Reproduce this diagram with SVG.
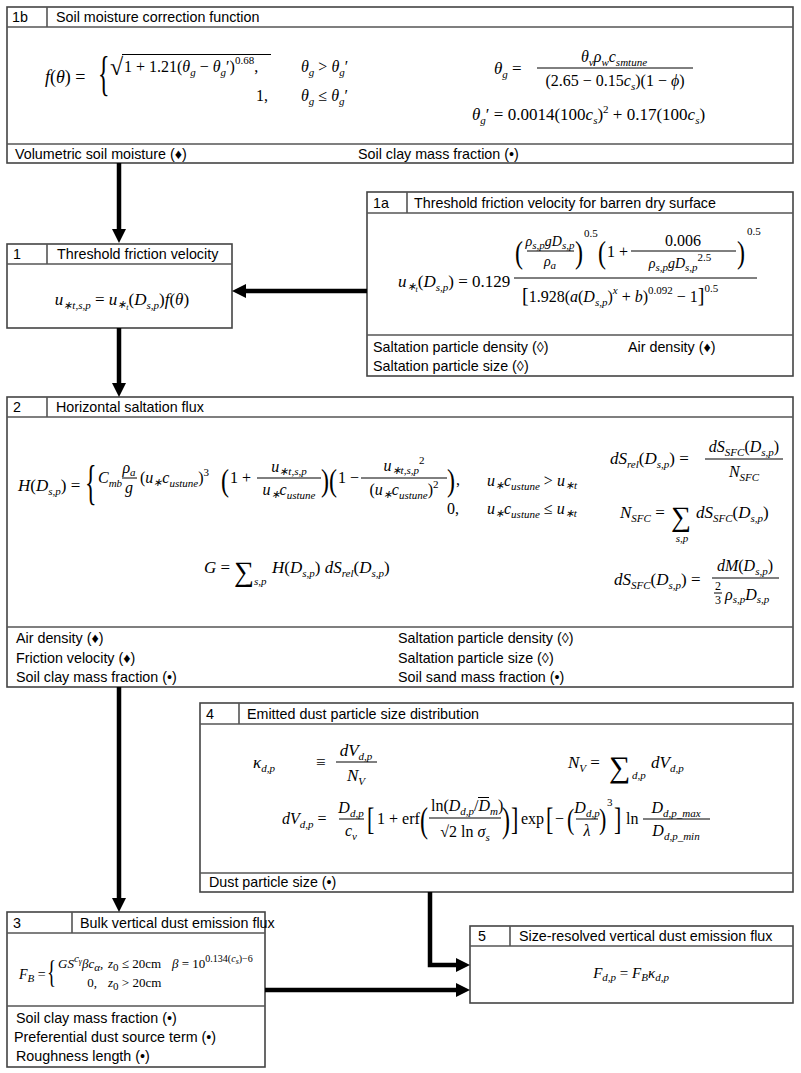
<svg xmlns="http://www.w3.org/2000/svg" width="801" height="1073" viewBox="0 0 801 1073">
<defs>
<style>
.t{font-family:"Liberation Sans",Arial,sans-serif;font-size:14.3px;fill:#000}
.m{font-family:"Liberation Serif","Times New Roman",serif;font-style:italic;font-size:16px;fill:#000}
.r{font-style:normal}
.s{font-size:11px}
.ss{font-size:8px}
.k{font-size:14px}
.box{fill:#fff;stroke:#444;stroke-width:1.6}
.ln{stroke:#555;stroke-width:1.6;fill:none}
.fb{stroke:#000;stroke-width:1}
.c{fill:none;stroke:#000;stroke-width:4.5}
</style>
<marker id="ah" markerUnits="userSpaceOnUse" markerWidth="16" markerHeight="16" refX="2" refY="8" orient="auto"><path d="M0,1 L14,8 L0,15 z" fill="#000"/></marker>
</defs>
<rect width="801" height="1073" fill="#fff"/>

<g id="node-1b">
<rect class="box" x="7" y="7" width="786" height="156"/>
<path class="ln" d="M7,27 H793 M47,7 V27 M7,144 H793"/>
<text class="t" x="12" y="22">1b</text>
<text class="t" x="56" y="22">Soil moisture correction function</text>
<text class="m" style="font-size:18px" x="45" y="83">f<tspan class="r">(</tspan>θ<tspan class="r">) =</tspan></text>
<text class="m r" style="font-size:24px" transform="translate(98,90) scale(1,2.05)">{</text>
<text class="m r" style="font-size:24px" x="110" y="75">√</text>
<line class="fb" x1="122" y1="54.5" x2="271" y2="54.5"/>
<text class="m" x="124" y="72"><tspan class="r">1 + 1.21(</tspan>θ<tspan class="s" dy="4">g</tspan><tspan class="r" dy="-4"> − </tspan>θ<tspan class="s" dy="4">g</tspan><tspan class="r" dy="-4">′)</tspan><tspan class="s r" dy="-8">0.68</tspan><tspan class="r" dy="8">,</tspan></text>
<text class="m" x="301" y="72">θ<tspan class="s" dy="4">g</tspan><tspan class="r" dy="-4"> &gt; </tspan>θ<tspan class="s" dy="4">g</tspan><tspan class="r" dy="-4">′</tspan></text>
<text class="m r" x="256" y="101">1,</text>
<text class="m" x="301" y="101">θ<tspan class="s" dy="4">g</tspan><tspan class="r" dy="-4"> ≤ </tspan>θ<tspan class="s" dy="4">g</tspan><tspan class="r" dy="-4">′</tspan></text>
<text class="m" style="font-size:17px" x="494" y="74">θ<tspan class="s" dy="4">g</tspan><tspan class="r" dy="-4"> =</tspan></text>
<text class="m" x="614" y="62" text-anchor="middle">θ<tspan class="s" dy="4">v</tspan><tspan dy="-4">ρ</tspan><tspan class="s" dy="4">w</tspan><tspan dy="-4">c</tspan><tspan class="s" dy="4">smtune</tspan></text>
<line class="fb" x1="537" y1="68" x2="693" y2="68"/>
<text class="m r" x="615" y="86" text-anchor="middle">(2.65 − 0.15<tspan font-style="italic">c</tspan><tspan class="s" font-style="italic" dy="4">s</tspan><tspan dy="-4">)(1 − </tspan><tspan font-style="italic">ϕ</tspan>)</text>
<text class="m" style="font-size:17px" x="472" y="120">θ<tspan class="s" dy="4">g</tspan><tspan class="r" dy="-4">′ = 0.0014(100</tspan>c<tspan class="s" dy="4">s</tspan><tspan class="r" dy="-4">)</tspan><tspan class="s r" dy="-7">2</tspan><tspan class="r" dy="7"> + 0.17(100</tspan>c<tspan class="s" dy="4">s</tspan><tspan class="r" dy="-4">)</tspan></text>
<text class="t" x="15" y="159">Volumetric soil moisture (♦)</text>
<text class="t" x="358" y="159">Soil clay mass fraction (•)</text>
</g>

<g id="node-1">
<rect class="box" x="7" y="244" width="225" height="84"/>
<path class="ln" d="M7,264 H232 M47,244 V264"/>
<text class="t" x="13" y="259">1</text>
<text class="t" x="57" y="259">Threshold friction velocity</text>
<text class="m" style="font-size:17px" x="122" y="305" text-anchor="middle">u<tspan class="s" dy="4">∗t,s,p</tspan><tspan class="r" dy="-4"> = </tspan>u<tspan class="s" dy="3">∗</tspan><tspan class="ss" dy="2">t</tspan><tspan class="r" dy="-5">(</tspan>D<tspan class="s" dy="4">s,p</tspan><tspan class="r" dy="-4">)</tspan>f<tspan class="r">(</tspan>θ<tspan class="r">)</tspan></text>
</g>

<g id="node-1a">
<rect class="box" x="367" y="192" width="426" height="184"/>
<path class="ln" d="M367,213 H793 M407,192 V213 M367,335 H793"/>
<text class="t" x="373" y="208">1a</text>
<text class="t" x="414" y="208">Threshold friction velocity for barren dry surface</text>
<text class="m" style="font-size:17px" x="398" y="287">u<tspan class="s" dy="3">∗</tspan><tspan class="ss" dy="2">t</tspan><tspan class="r" dy="-5">(</tspan>D<tspan class="s" dy="4">s,p</tspan><tspan class="r" dy="-4">) = 0.129</tspan></text>
<text class="m r" style="font-size:24px" transform="translate(515,263) scale(1,1.35)">(</text>
<text class="m k" x="550" y="246" text-anchor="middle">ρ<tspan class="s" dy="3">s,p</tspan><tspan dy="-3">gD</tspan><tspan class="s" dy="3">s,p</tspan></text>
<line class="fb" x1="527" y1="251" x2="574" y2="251"/>
<text class="m k" x="550" y="266" text-anchor="middle">ρ<tspan class="s" dy="3">a</tspan></text>
<text class="m r" style="font-size:24px" transform="translate(575,263) scale(1,1.35)">)</text>
<text class="m r s" x="584" y="237">0.5</text>
<text class="m r" style="font-size:24px" transform="translate(598,263) scale(1,1.35)">(</text>
<text class="m r" x="607" y="257">1 +</text>
<text class="m r" x="683" y="246" text-anchor="middle">0.006</text>
<line class="fb" x1="631" y1="251" x2="736" y2="251"/>
<text class="m k" x="680" y="268" text-anchor="middle">ρ<tspan class="s" dy="3">s,p</tspan><tspan dy="-3">gD</tspan><tspan class="s" dy="3">s,p</tspan><tspan class="s r" dy="-10">2.5</tspan></text>
<text class="m r" style="font-size:24px" transform="translate(737,263) scale(1,1.35)">)</text>
<text class="m r s" x="747" y="235">0.5</text>
<line class="fb" x1="514" y1="278" x2="757" y2="278"/>
<text class="m r" x="522" y="302"><tspan font-size="20">[</tspan>1.928(<tspan font-style="italic">a</tspan>(<tspan font-style="italic">D</tspan><tspan class="s" font-style="italic" dy="4">s,p</tspan><tspan dy="-4">)</tspan><tspan class="s" font-style="italic" dy="-8">x</tspan><tspan dy="8"> + </tspan><tspan font-style="italic">b</tspan>)<tspan class="s" dy="-8">0.092</tspan><tspan dy="8"> − 1</tspan><tspan font-size="20">]</tspan><tspan class="s" dy="-10">0.5</tspan></text>
<text class="t" x="373" y="352">Saltation particle density (◊)</text>
<text class="t" x="628" y="352">Air density (♦)</text>
<text class="t" x="373" y="371">Saltation particle size (◊)</text>
</g>

<g id="node-2">
<rect class="box" x="7" y="397" width="786" height="290"/>
<path class="ln" d="M7,417 H793 M47,397 V417 M7,627 H793"/>
<text class="t" x="13" y="412">2</text>
<text class="t" x="56" y="412">Horizontal saltation flux</text>
<text class="m" style="font-size:17px" x="18" y="491">H<tspan class="r">(</tspan>D<tspan class="s" dy="4">s,p</tspan><tspan class="r" dy="-4">) =</tspan></text>
<text class="m r" style="font-size:24px" transform="translate(85,499) scale(1,2.05)">{</text>
<text class="m" x="98" y="483">C<tspan class="s" dy="4">mb</tspan></text>
<text class="m" x="129" y="473" text-anchor="middle">ρ<tspan class="s" dy="3">a</tspan></text>
<line class="fb" x1="122" y1="478" x2="137" y2="478"/>
<text class="m" x="129" y="493" text-anchor="middle">g</text>
<text class="m" x="140" y="483"><tspan class="r">(</tspan>u<tspan class="s" dy="3">∗</tspan><tspan dy="-3">c</tspan><tspan class="s" dy="4">ustune</tspan><tspan class="r" dy="-4">)</tspan><tspan class="s r" dy="-7">3</tspan></text>
<text class="m r" style="font-size:24px" transform="translate(221,491) scale(1,1.35)">(</text>
<text class="m r" x="230" y="483">1 +</text>
<text class="m" x="289" y="472" text-anchor="middle">u<tspan class="s" dy="3">∗t,s,p</tspan></text>
<line class="fb" x1="257" y1="478" x2="321" y2="478"/>
<text class="m" x="289" y="495" text-anchor="middle">u<tspan class="s" dy="3">∗</tspan><tspan dy="-3">c</tspan><tspan class="s" dy="4">ustune</tspan></text>
<text class="m r" style="font-size:24px" transform="translate(321,491) scale(1,1.35)">)</text>
<text class="m r" style="font-size:24px" transform="translate(329,491) scale(1,1.35)">(</text>
<text class="m r" x="338" y="483">1 −</text>
<text class="m" x="404" y="471" text-anchor="middle">u<tspan class="s" dy="3">∗t,s,p</tspan><tspan class="s r" dy="-10">2</tspan></text>
<line class="fb" x1="361" y1="478" x2="447" y2="478"/>
<text class="m" x="404" y="495" text-anchor="middle"><tspan class="r">(</tspan>u<tspan class="s" dy="3">∗</tspan><tspan dy="-3">c</tspan><tspan class="s" dy="4">ustune</tspan><tspan class="r" dy="-4">)</tspan><tspan class="s r" dy="-7">2</tspan></text>
<text class="m r" style="font-size:24px" transform="translate(447,491) scale(1,1.35)">)</text>
<text class="m r" x="456" y="485">,</text>
<text class="m" x="487" y="486">u<tspan class="s" dy="3">∗</tspan><tspan dy="-3">c</tspan><tspan class="s" dy="4">ustune</tspan><tspan class="r" dy="-4"> &gt; </tspan>u<tspan class="s" dy="3">∗t</tspan></text>
<text class="m r" x="459" y="514" text-anchor="end">0,</text>
<text class="m" x="487" y="514">u<tspan class="s" dy="3">∗</tspan><tspan dy="-3">c</tspan><tspan class="s" dy="4">ustune</tspan><tspan class="r" dy="-4"> ≤ </tspan>u<tspan class="s" dy="3">∗t</tspan></text>
<text class="m" style="font-size:17px" x="204" y="573">G<tspan class="r"> =</tspan></text>
<text class="m r" style="font-size:28px" x="234" y="581">∑</text>
<text class="m s" x="254" y="585">s,p</text>
<text class="m" style="font-size:17px" x="272" y="573">H<tspan class="r">(</tspan>D<tspan class="s" dy="4">s,p</tspan><tspan class="r" dy="-4">) </tspan>dS<tspan class="s" dy="4">rel</tspan><tspan class="r" dy="-4">(</tspan>D<tspan class="s" dy="4">s,p</tspan><tspan class="r" dy="-4">)</tspan></text>
<text class="m" style="font-size:17px" x="610" y="464">dS<tspan class="s" dy="4">rel</tspan><tspan class="r" dy="-4">(</tspan>D<tspan class="s" dy="4">s,p</tspan><tspan class="r" dy="-4">) =</tspan></text>
<text class="m" x="744" y="452" text-anchor="middle">dS<tspan class="s" dy="4">SFC</tspan><tspan class="r" dy="-4">(</tspan>D<tspan class="s" dy="4">s,p</tspan><tspan class="r" dy="-4">)</tspan></text>
<line class="fb" x1="705" y1="459" x2="783" y2="459"/>
<text class="m" x="744" y="477" text-anchor="middle">N<tspan class="s" dy="4">SFC</tspan></text>
<text class="m" style="font-size:17px" x="620" y="518">N<tspan class="s" dy="4">SFC</tspan><tspan class="r" dy="-4"> =</tspan></text>
<text class="m r" style="font-size:28px" x="671" y="526">∑</text>
<text class="m s" x="682" y="542" text-anchor="middle">s,p</text>
<text class="m" style="font-size:17px" x="696" y="518">dS<tspan class="s" dy="4">SFC</tspan><tspan class="r" dy="-4">(</tspan>D<tspan class="s" dy="4">s,p</tspan><tspan class="r" dy="-4">)</tspan></text>
<text class="m" style="font-size:17px" x="614" y="585">dS<tspan class="s" dy="4">SFC</tspan><tspan class="r" dy="-4">(</tspan>D<tspan class="s" dy="4">s,p</tspan><tspan class="r" dy="-4">) =</tspan></text>
<text class="m" x="745" y="571" text-anchor="middle">dM<tspan class="r">(</tspan>D<tspan class="s" dy="4">s,p</tspan><tspan class="r" dy="-4">)</tspan></text>
<line class="fb" x1="712" y1="578" x2="779" y2="578"/>
<text class="m r" style="font-size:12px" x="718" y="590" text-anchor="middle">2</text>
<line class="fb" x1="714" y1="593" x2="722" y2="593"/>
<text class="m r" style="font-size:12px" x="718" y="604" text-anchor="middle">3</text>
<text class="m" x="725" y="600">ρ<tspan class="s" dy="3">s,p</tspan><tspan dy="-3">D</tspan><tspan class="s" dy="3">s,p</tspan></text>
<text class="t" x="16" y="643">Air density (♦)</text>
<text class="t" x="16" y="663">Friction velocity (♦)</text>
<text class="t" x="16" y="682">Soil clay mass fraction  (•)</text>
<text class="t" x="398" y="643">Saltation particle density (◊)</text>
<text class="t" x="398" y="663">Saltation particle size  (◊)</text>
<text class="t" x="398" y="682">Soil sand mass fraction  (•)</text>
</g>

<g id="node-4">
<rect class="box" x="200" y="703" width="593" height="189"/>
<path class="ln" d="M200,724 H793 M239,703 V724 M200,873 H793"/>
<text class="t" x="206" y="719">4</text>
<text class="t" x="247" y="719">Emitted dust particle size distribution</text>
<text class="m" style="font-size:17px" x="253" y="768">κ<tspan class="s" dy="4">d,p</tspan></text>
<text class="m r" style="font-size:17px" x="316" y="768">≡</text>
<text class="m" style="font-size:17px" x="356" y="756" text-anchor="middle">dV<tspan class="s" dy="4">d,p</tspan></text>
<line class="fb" x1="336" y1="762" x2="377" y2="762"/>
<text class="m" style="font-size:17px" x="356" y="781" text-anchor="middle">N<tspan class="s" dy="4">V</tspan></text>
<text class="m" style="font-size:17px" x="568" y="768">N<tspan class="s" dy="4">V</tspan><tspan class="r" dy="-4"> =</tspan></text>
<text class="m r" style="font-size:30px" x="609" y="777">∑</text>
<text class="m s" x="632" y="779">d,p</text>
<text class="m" style="font-size:17px" x="651" y="768">dV<tspan class="s" dy="4">d,p</tspan></text>
<text class="m" x="282" y="824">dV<tspan class="s" dy="4">d,p</tspan><tspan class="r" dy="-4"> =</tspan></text>
<text class="m" x="351" y="813" text-anchor="middle">D<tspan class="s" dy="4">d,p</tspan></text>
<line class="fb" x1="339" y1="819" x2="364" y2="819"/>
<text class="m" x="351" y="836" text-anchor="middle">c<tspan class="s" dy="4">v</tspan></text>
<text class="m r" style="font-size:22px" transform="translate(367,830) scale(1,1.45)">[</text>
<text class="m r" x="377" y="824">1 + erf</text>
<text class="m r" style="font-size:24px" transform="translate(420,832) scale(1,1.5)">(</text>
<text class="m" x="431" y="811"><tspan class="r">ln(</tspan>D<tspan class="s" dy="4">d,p</tspan><tspan class="r" dy="-4">/</tspan>D<tspan class="s" dy="4">m</tspan><tspan class="r" dy="-4">)</tspan></text>
<line class="fb" x1="478" y1="797.5" x2="489" y2="797.5"/>
<line class="fb" x1="429" y1="818" x2="501" y2="818"/>
<text class="m" x="465" y="837" text-anchor="middle"><tspan class="r">√2 ln </tspan>σ<tspan class="s" dy="4">s</tspan></text>
<text class="m r" style="font-size:24px" transform="translate(502,832) scale(1,1.5)">)</text>
<text class="m r" style="font-size:22px" transform="translate(511,830) scale(1,1.45)">]</text>
<text class="m r" x="521" y="824">exp</text>
<text class="m r" style="font-size:22px" transform="translate(546,830) scale(1,1.45)">[</text>
<text class="m r" x="555" y="824">−</text>
<text class="m r" style="font-size:22px" transform="translate(567,829) scale(1,1.3)">(</text>
<text class="m" x="587" y="813" text-anchor="middle">D<tspan class="s" dy="4">d,p</tspan></text>
<line class="fb" x1="576" y1="819" x2="598" y2="819"/>
<text class="m" x="587" y="836" text-anchor="middle">λ</text>
<text class="m r" style="font-size:22px" transform="translate(599,829) scale(1,1.3)">)</text>
<text class="m r s" x="607" y="806">3</text>
<text class="m r" style="font-size:22px" transform="translate(614,830) scale(1,1.45)">]</text>
<text class="m r" x="626" y="824">ln</text>
<text class="m" x="676" y="813" text-anchor="middle">D<tspan class="s" dy="4">d,p_max</tspan></text>
<line class="fb" x1="643" y1="819" x2="710" y2="819"/>
<text class="m" x="676" y="836" text-anchor="middle">D<tspan class="s" dy="4">d,p_min</tspan></text>
<text class="t" x="209" y="887">Dust particle size (•)</text>
</g>

<g id="node-3">
<rect class="box" x="7" y="912" width="258" height="155"/>
<path class="ln" d="M7,933 H265 M72,912 V933 M7,1006 H265"/>
<text class="t" x="13" y="928">3</text>
<text class="t" x="80" y="928">Bulk vertical dust emission flux</text>
<text class="m" style="font-size:14px" x="19" y="979">F<tspan class="s" dy="3">B</tspan><tspan class="r" dy="-3"> =</tspan></text>
<text class="m r" style="font-size:19px" transform="translate(47,983) scale(1,1.65)">{</text>
<text class="m" style="font-size:13px" x="58" y="968">GS<tspan class="s" dy="-6">c</tspan><tspan class="ss" dy="2">γ</tspan><tspan dy="4">βc</tspan><tspan class="s" dy="3">α</tspan><tspan class="r" dy="-3">,</tspan></text>
<text class="m" style="font-size:13px" x="108" y="968">z<tspan class="s r" dy="3">0</tspan><tspan class="r" dy="-3"> ≤ 20cm</tspan></text>
<text class="m r" style="font-size:13px" x="97" y="987" text-anchor="end">0,</text>
<text class="m" style="font-size:13px" x="108" y="987">z<tspan class="s r" dy="3">0</tspan><tspan class="r" dy="-3"> &gt; 20cm</tspan></text>
<text class="m" style="font-size:13px" x="172" y="968">β<tspan class="r"> = 10</tspan><tspan class="s r" dy="-6" style="font-size:10px">0.134(</tspan><tspan style="font-size:10px">c</tspan><tspan class="ss" dy="2">s</tspan><tspan class="r" dy="-2" style="font-size:10px">)−6</tspan></text>
<text class="t" x="16" y="1023">Soil clay mass fraction (•)</text>
<text class="t" x="14" y="1042">Preferential dust source term  (•)</text>
<text class="t" x="16" y="1061">Roughness length (•)</text>
</g>

<g id="node-5">
<rect class="box" x="470" y="926" width="323" height="77"/>
<path class="ln" d="M470,946 H793 M510,926 V946"/>
<text class="t" x="478" y="941">5</text>
<text class="t" x="519" y="941">Size-resolved vertical dust emission flux</text>
<text class="m" style="font-size:15px" x="631" y="978" text-anchor="middle">F<tspan class="s" dy="3">d,p</tspan><tspan class="r" dy="-3"> = </tspan>F<tspan class="s" dy="3">B</tspan><tspan dy="-3">κ</tspan><tspan class="s" dy="3">d,p</tspan></text>
</g>

<g id="connectors">
<path class="c" d="M119,163 V231" marker-end="url(#ah)"/>
<path class="c" d="M367,291 H244" marker-end="url(#ah)"/>
<path class="c" d="M119,328 V385" marker-end="url(#ah)"/>
<path class="c" d="M119,687 V900" marker-end="url(#ah)"/>
<path class="c" d="M430,892 V965 H458" marker-end="url(#ah)"/>
<path class="c" d="M265,990 H458" marker-end="url(#ah)"/>
</g>
</svg>
